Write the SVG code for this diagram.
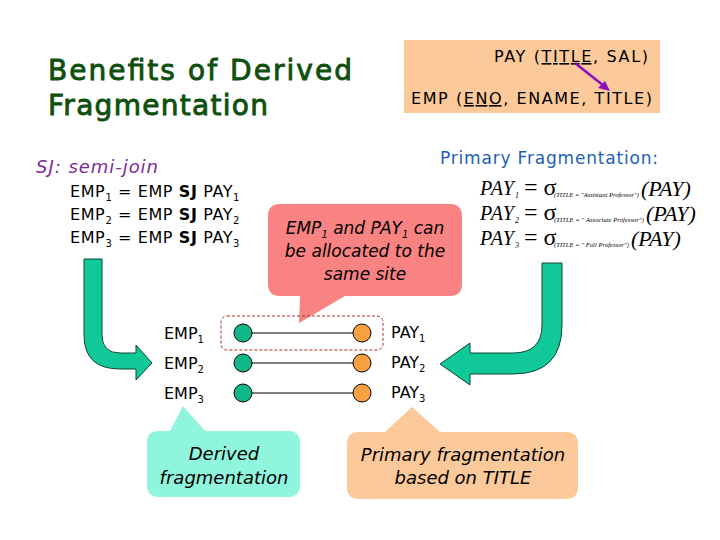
<svg xmlns="http://www.w3.org/2000/svg" width="720" height="540" viewBox="0 0 720 540">
<style>
.t{font-family:"DejaVu Sans","Open Sans",sans-serif;fill:#000}
.it{font-family:"DejaVu Sans","Open Sans",sans-serif;font-style:italic;fill:#000}
.f{font-family:"Liberation Serif",serif;font-style:italic;fill:#000}
.arrow{fill:#10c898;stroke:#114433;stroke-width:1}
.con{stroke:#000;stroke-width:1.2;fill:none}
</style>
<rect width="720" height="540" fill="#fff"/>
<g id="title">
<text class="t" x="48" y="80" font-size="28" style="fill:#0f4f0f;stroke:#0f4f0f;stroke-width:0.9" textLength="304">Benefits of Derived</text>
<text class="t" x="48" y="115" font-size="28" style="fill:#0f4f0f;stroke:#0f4f0f;stroke-width:0.9" textLength="220">Fragmentation</text>
</g>
<g id="schema">
<rect x="404" y="40" width="256" height="73" fill="#fbc99a"/>
<text class="t" x="494" y="62" font-size="16" textLength="154">PAY (<tspan text-decoration="underline">TITLE</tspan>, SAL)</text>
<text class="t" x="411" y="104" font-size="16" textLength="241">EMP (<tspan text-decoration="underline">ENO</tspan>, ENAME, TITLE)</text>
<line x1="575" y1="63" x2="604" y2="86" stroke="#8a10c0" stroke-width="2.5"/>
<polygon points="610,91 598,88 605,81" fill="#8a10c0"/>
</g>
<g id="primary-label">
<text class="t" x="440" y="164" font-size="17" style="fill:#1e5fb4" textLength="218">Primary Fragmentation:</text>
</g>
<g id="sj">
<text class="it" x="36" y="173" font-size="18" style="fill:#7a2a9a" textLength="122">SJ: semi-join</text>
<text class="t" x="70" y="197" font-size="16" letter-spacing="0.6">EMP<tspan font-size="10" dy="4">1</tspan><tspan dy="-4"> = EMP </tspan><tspan font-weight="bold">SJ</tspan> PAY<tspan font-size="10" dy="4">1</tspan></text>
<text class="t" x="70" y="220" font-size="16" letter-spacing="0.6">EMP<tspan font-size="10" dy="4">2</tspan><tspan dy="-4"> = EMP </tspan><tspan font-weight="bold">SJ</tspan> PAY<tspan font-size="10" dy="4">2</tspan></text>
<text class="t" x="70" y="243" font-size="16" letter-spacing="0.6">EMP<tspan font-size="10" dy="4">3</tspan><tspan dy="-4"> = EMP </tspan><tspan font-weight="bold">SJ</tspan> PAY<tspan font-size="10" dy="4">3</tspan></text>
</g>
<g id="formulas">
<text class="f" font-size="20"><tspan x="480" y="195" letter-spacing="1">PAY</tspan><tspan font-size="8" y="198">1</tspan><tspan x="524" y="195" font-style="normal" font-size="24">= σ</tspan><tspan x="554" y="197" font-size="6.5" textLength="85">(TITLE = "Assistant Professor")</tspan><tspan x="641" y="196" font-size="22">(PAY)</tspan></text>
<text class="f" font-size="20"><tspan x="480" y="220" letter-spacing="1">PAY</tspan><tspan font-size="8" y="223">2</tspan><tspan x="524" y="220" font-style="normal" font-size="24">= σ</tspan><tspan x="554" y="222" font-size="6.5" textLength="90">(TITLE = " Associate Professor")</tspan><tspan x="646" y="221" font-size="22">(PAY)</tspan></text>
<text class="f" font-size="20"><tspan x="480" y="245" letter-spacing="1">PAY</tspan><tspan font-size="8" y="248">3</tspan><tspan x="524" y="245" font-style="normal" font-size="24">= σ</tspan><tspan x="554" y="247" font-size="6.5" textLength="75">(TITLE = " Full Professor")</tspan><tspan x="631" y="246" font-size="22">(PAY)</tspan></text>
</g>
<g id="callout-site">
<path d="M280,204 H450 Q462,204 462,216 V284 Q462,296 450,296 H345 L299,323 L300,296 H280 Q268,296 268,284 V216 Q268,204 280,204 Z" fill="#f98282"/>
<text class="it" x="365" y="234" font-size="17" text-anchor="middle">EMP<tspan font-size="10" dy="4">1</tspan><tspan dy="-4"> and PAY</tspan><tspan font-size="10" dy="4">1</tspan><tspan dy="-4"> can</tspan></text>
<text class="it" x="365" y="257" font-size="17" text-anchor="middle">be allocated to the</text>
<text class="it" x="365" y="280" font-size="17" text-anchor="middle">same site</text>
</g>
<g id="arrow-left">
<path class="arrow" d="M84,259 H102 V335 Q102,353 120,353 H136 V345 L152,363 L136,380 V369 H120 Q84,369 84,335 Z"/>
</g>
<g id="arrow-right">
<path class="arrow" d="M542,263 H562 V325 Q562,374 513,374 H470 V385 L440,364 L470,343 V353 H513 Q542,353 542,325 Z"/>
</g>
<g id="pair-box">
<rect x="221" y="316" width="162" height="34" rx="6" fill="none" stroke="#a03030" stroke-dasharray="3,2" stroke-width="1"/>
</g>
<g id="connectors">
<line class="con" x1="243" y1="333" x2="362" y2="333"/>
<line class="con" x1="243" y1="363" x2="362" y2="363"/>
<line class="con" x1="243" y1="393" x2="362" y2="393"/>
</g>
<g id="emp-nodes">
<circle cx="243" cy="333" r="9" fill="#10b888" stroke="#000"/>
<circle cx="243" cy="363" r="9" fill="#10b888" stroke="#000"/>
<circle cx="243" cy="393" r="9" fill="#10b888" stroke="#000"/>
<text class="t" x="164" y="339" font-size="16">EMP<tspan font-size="10" dy="4">1</tspan></text>
<text class="t" x="164" y="369" font-size="16">EMP<tspan font-size="10" dy="4">2</tspan></text>
<text class="t" x="164" y="399" font-size="16">EMP<tspan font-size="10" dy="4">3</tspan></text>
</g>
<g id="pay-nodes">
<circle cx="362" cy="333" r="9" fill="#f9a040" stroke="#000"/>
<circle cx="362" cy="363" r="9" fill="#f9a040" stroke="#000"/>
<circle cx="362" cy="393" r="9" fill="#f9a040" stroke="#000"/>
<text class="t" x="391" y="338" font-size="16">PAY<tspan font-size="10" dy="4">1</tspan></text>
<text class="t" x="391" y="368" font-size="16">PAY<tspan font-size="10" dy="4">2</tspan></text>
<text class="t" x="391" y="398" font-size="16">PAY<tspan font-size="10" dy="4">3</tspan></text>
</g>
<g id="callout-derived">
<path d="M158,431 H170 L183,406 L205,431 H288 Q300,431 300,443 V485 Q300,497 288,497 H159 Q147,497 147,485 V443 Q147,431 158,431 Z" fill="#8ff5dc"/>
<text class="it" x="224" y="460" font-size="18" text-anchor="middle">Derived</text>
<text class="it" x="224" y="484" font-size="18" text-anchor="middle">fragmentation</text>
</g>
<g id="callout-primary">
<path d="M359,432 H385 L412,407 L440,432 H566 Q578,432 578,444 V487 Q578,499 566,499 H359 Q347,499 347,487 V444 Q347,432 359,432 Z" fill="#fbc99a"/>
<text class="it" x="463" y="461" font-size="18" text-anchor="middle">Primary fragmentation</text>
<text class="it" x="463" y="484" font-size="18" text-anchor="middle">based on TITLE</text>
</g>
</svg>
